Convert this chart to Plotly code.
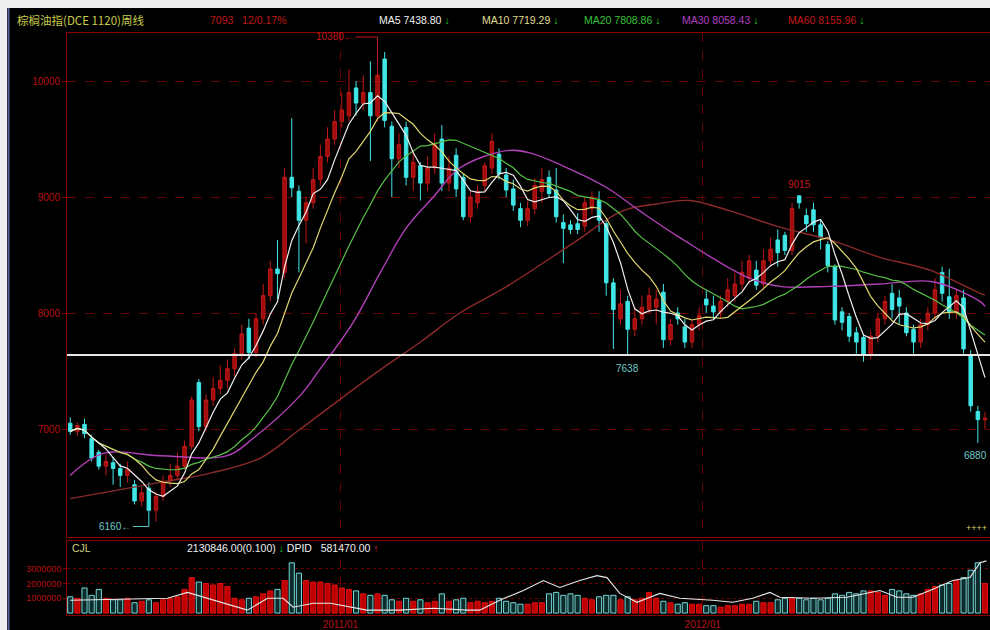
import plotly.graph_objects as go
import pandas as pd

# ---------------- data (weekly) ----------------
opens = [7050, 6980, 7040, 6920, 6800, 6680, 6710, 6660, 6600, 6520,
         6380, 6490, 6300, 6420, 6550, 6600, 6680, 6850, 7400, 7020,
         7250, 7350, 7420, 7520, 7650, 7870, 7660, 7950, 8150, 8380,
         8350, 9170, 9050, 8800, 8950, 9150, 9350, 9500, 9650, 9700,
         9940, 9810, 9900, 9700, 10190, 9610, 9330, 9600, 9170, 9270,
         9120, 9250, 9500, 9120, 9360, 9170, 8830, 8950, 9100, 9250,
         9370, 9190, 9070, 8900, 8800, 8900, 9050, 9170, 9060, 8780,
         8760, 8770, 8750, 8900, 8970, 8770, 8260, 7950, 8100, 7860,
         7950, 8030, 8050, 8180, 7770, 8000, 7880, 7750, 7900, 8120,
         8060, 8010, 8100, 8150, 8250, 8300, 8370, 8250, 8450, 8630,
         8670, 8540, 9010, 8840, 8890, 8760, 8590, 8400, 8010, 7970,
         7830, 7790, 7640, 7800, 7950, 8170, 8130, 8000, 7860, 7750,
         7900, 8000, 8350, 8140, 8010, 8130, 7630, 7150, 7081]
highs = [7100, 7060, 7090, 6950, 6820, 6780, 6760, 6700, 6720, 6560,
         6500, 6540, 6460, 6600, 6700, 6800, 6900, 7280, 7430, 7300,
         7450, 7550, 7600, 7700, 7900, 7950, 8000, 8250, 8450, 8630,
         9250, 9680, 9100, 9000, 9250, 9450, 9600, 9750, 9900, 10100,
         10000, 10050, 10170, 10380, 10250, 9650, 9550, 9650, 9400, 9300,
         9350, 9550, 9620, 9350, 9420, 9200, 9050, 9100, 9300, 9550,
         9420, 9250, 9150, 8950, 8970, 9160, 9250, 9230, 9250, 8850,
         8800, 8860, 9000, 9050, 9050, 8800, 8300, 8200, 8150, 8050,
         8150, 8220, 8200, 8250, 7950, 8050, 7950, 7950, 8050, 8200,
         8150, 8150, 8300, 8350, 8450, 8500, 8450, 8550, 8650, 8720,
         8700, 8950, 9015, 8900, 8950, 8800, 8620, 8420, 8050, 8000,
         7880, 7820, 7850, 8000, 8150, 8250, 8200, 8050, 7900, 7950,
         8050, 8300, 8400, 8380, 8200, 8200, 7680, 7200, 7150]
lows = [6950, 6940, 6920, 6720, 6650, 6600, 6520, 6500, 6540, 6350,
        6330, 6160, 6200, 6380, 6500, 6560, 6650, 6820, 6980, 6980,
        7200, 7300, 7350, 7450, 7600, 7600, 7620, 7900, 8100, 8120,
        8300, 9000, 8350, 8600, 8900, 9100, 9300, 9450, 9600, 9650,
        9700, 9750, 9310, 9650, 9600, 9000, 9250, 9100, 9050, 8970,
        9050, 9200, 9050, 9050, 9000, 8800, 8780, 8900, 9050, 9200,
        9150, 9000, 8880, 8740, 8750, 8850, 8950, 8990, 8780, 8430,
        8680, 8680, 8700, 8850, 8700, 8150, 7690, 7900, 7638, 7800,
        7900, 8000, 7900, 7700, 7720, 7900, 7700, 7700, 7850, 8000,
        7950, 7950, 8050, 8100, 8200, 8250, 8200, 8200, 8400, 8400,
        8500, 8500, 8900, 8700, 8700, 8550, 8350, 7900, 7850, 7750,
        7650, 7580, 7600, 7750, 7900, 7950, 7900, 7800, 7650, 7700,
        7850, 7950, 8100, 7950, 7950, 7650, 7150, 6880, 7000]
closes = [6980, 7030, 6960, 6750, 6680, 6720, 6660, 6600, 6650, 6380,
          6450, 6300, 6420, 6550, 6600, 6680, 6850, 7250, 7020, 7250,
          7350, 7420, 7520, 7650, 7820, 7660, 7950, 8150, 8380, 8340,
          9170, 9080, 8800, 8950, 9150, 9350, 9500, 9650, 9750, 9900,
          9810, 9900, 9700, 10050, 9660, 9330, 9450, 9170, 9300, 9120,
          9250, 9450, 9120, 9250, 9070, 8830, 9000, 9050, 9270, 9480,
          9200, 9060, 8930, 8800, 8900, 9100, 9150, 9030, 8830, 8730,
          8720, 8720, 8950, 9000, 8800, 8260, 8030, 8080, 7860, 7950,
          8050, 8150, 8120, 7770, 7900, 7950, 7750, 7900, 7980, 8070,
          8010, 8100, 8200, 8250, 8350, 8450, 8240, 8450, 8550, 8520,
          8540, 8900, 8950, 8770, 8760, 8650, 8410, 7940, 7920, 7800,
          7750, 7640, 7800, 7950, 8100, 8030, 8060, 7830, 7750, 7900,
          8000, 8200, 8170, 8010, 8150, 7690, 7200, 7081, 7093]
volumes_m = [1.1, 1.0, 1.7, 1.2, 1.6, 1.0, 0.9, 0.9, 1.0, 0.7,
             0.8, 0.9, 0.7, 0.9, 1.0, 1.1, 1.6, 2.4, 2.1, 2.0,
             1.9, 2.0, 1.8, 1.0, 0.9, 1.0, 1.1, 1.3, 1.5, 1.6,
             2.2, 3.4, 2.7, 2.2, 2.1, 2.1, 2.0, 1.9, 1.7, 1.6,
             1.5, 1.3, 1.2, 1.3, 1.2, 0.9, 0.8, 1.0, 0.8, 0.9,
             0.7, 0.8, 1.3, 0.8, 0.9, 1.0, 0.7, 0.8, 0.7, 0.8,
             1.0, 0.8, 0.7, 0.6, 0.6, 0.7, 0.7, 1.3, 1.4, 1.2,
             1.3, 1.2, 1.0, 0.9, 1.1, 1.2, 1.2, 0.9, 1.1, 0.9,
             1.0, 1.4, 1.0, 0.8, 0.7, 0.6, 0.7, 0.6, 0.6, 0.5,
             0.5, 0.4, 0.5, 0.5, 0.6, 0.6, 0.8, 0.7, 0.7, 0.9,
             1.0, 1.0, 1.0, 0.9, 1.0, 0.9, 1.0, 1.3, 1.2, 1.4,
             1.3, 1.5, 1.5, 1.4, 1.2, 1.6, 1.5, 1.3, 1.2, 1.3,
             1.6, 1.8, 1.9, 2.0, 2.2, 2.4, 2.9, 3.4, 2.0]

# long moving averages (week index, value)
ma30_idx = [0, 4.6, 12.6, 22, 25.6, 32.2, 35, 39.6, 43.4, 47.1, 50.8, 54.5,
            61.1, 64.3, 70.3, 75.1, 79.7, 85.3, 94.7, 99.3, 106.3, 113.3,
            120.7, 127.3, 128]
ma30_val = [6600, 6790, 6770, 6770, 6920, 7290, 7520, 7920, 8350, 8740, 9000, 9250,
            9400, 9380, 9230, 9080, 8880, 8650, 8310, 8230, 8230, 8250,
            8270, 8100, 8058]
ma60_idx = [0, 12.6, 19.6, 26.6, 32.2, 42, 49, 54.5, 61.1, 70.3, 77.3, 82,
            86.7, 92.3, 99.3, 106.3, 113.3, 120.3, 127.3, 128]
ma60_val = [6400, 6540, 6620, 6750, 7000, 7450, 7750, 8000, 8230, 8600, 8880, 8940,
            8970, 8880, 8740, 8630, 8480, 8370, 8170, 8156]

# white line in the volume pane (week index, value in millions)
vline_idx = [0, 13.6, 16.4, 19.2, 22.8, 24.8, 27.6, 29.8, 31.2, 34, 36.4, 41.5,
             46.2, 50.8, 55.5, 57.3, 60.1, 63.4, 66.2, 68.5, 71.3, 73.7, 75.1,
             76.9, 79.3, 82.5, 85.3, 89.9, 92.7, 95.5, 97.9, 99.3, 103.9, 108.7,
             113.3, 115.7, 117.9, 120.3, 123.5, 125.9, 127.3, 128.2]
vline_val = [0.87, 1.0, 1.4, 1.0, 0.53, 0.2, 1.0, 1.0, 0.4, 0.67, 0.67, 0.2,
             0.2, 0.33, 0.2, 0.2, 0.87, 1.53, 2.2, 1.73, 2.2, 2.53, 2.4,
             1.33, 0.73, 1.33, 1.0, 0.87, 0.73, 1.0, 1.4, 1.07, 1.0, 1.07,
             1.53, 1.07, 1.07, 1.53, 2.2, 2.4, 3.4, 3.53]

tick_pos = [37.8, 88.5]
tick_labels = ["2011/01", "2012/01"]
price_ticks = [7000, 8000, 9000, 10000]
price_tick_labels = ["7000", "8000", "9000", "10000"]
vol_ticks = [1000000, 2000000, 3000000]
vol_tick_labels = ["1000000", "2000000", "3000000"]
support_level = 7638

# ---------------- derived ----------------
idx = list(range(len(closes)))
cs = pd.Series(closes, dtype=float)
ma5 = cs.rolling(5, min_periods=1).mean()
ma10 = cs.rolling(10, min_periods=1).mean()
ma20 = cs.rolling(20, min_periods=1).mean()
volumes = [v * 1e6 for v in volumes_m]
vline = [v * 1e6 for v in vline_val]
up = [c >= o for o, c in zip(opens, closes)]

RED = "#c81010"
CYAN = "#40e6e6"
GRID = "#6a0000"
AX = "#8a0000"
FONT = "Liberation Sans"

fig = go.Figure()
fig.add_trace(go.Candlestick(
    x=idx, open=opens, high=highs, low=lows, close=closes,
    increasing=dict(line=dict(color="#c01818", width=1), fillcolor="#a00c0c"),
    decreasing=dict(line=dict(color=CYAN, width=1), fillcolor=CYAN),
    whiskerwidth=0, xaxis="x", yaxis="y", showlegend=False, hoverinfo="skip"))

fig.add_trace(go.Scatter(x=ma60_idx, y=ma60_val, mode="lines", line=dict(color="#8c2a2a", width=1.4, shape="spline"),
                         xaxis="x", yaxis="y", showlegend=False))
fig.add_trace(go.Scatter(x=ma30_idx, y=ma30_val, mode="lines", line=dict(color="#b040b8", width=1.4, shape="spline"),
                         xaxis="x", yaxis="y", showlegend=False))
fig.add_trace(go.Scatter(x=idx, y=ma20, mode="lines", line=dict(color="#58c048", width=1.2),
                         xaxis="x", yaxis="y", showlegend=False))
fig.add_trace(go.Scatter(x=idx, y=ma10, mode="lines", line=dict(color="#e0d870", width=1.2),
                         xaxis="x", yaxis="y", showlegend=False))
fig.add_trace(go.Scatter(x=idx, y=ma5, mode="lines", line=dict(color="#f0f0f0", width=1.2),
                         xaxis="x", yaxis="y", showlegend=False))

fig.add_trace(go.Bar(
    x=idx, y=volumes, width=0.72,
    marker=dict(color=["#c00000" if u else "#0c2c2c" for u in up],
                line=dict(color=["#e01010" if u else "#78d8d8" for u in up], width=1)),
    xaxis="x2", yaxis="y2", showlegend=False))
fig.add_trace(go.Scatter(x=vline_idx, y=vline, mode="lines", line=dict(color="#e8e8e8", width=1.1),
                         xaxis="x2", yaxis="y2", showlegend=False))

xr = [-0.45, 128.7]
fig.update_layout(
    width=990, height=630,
    margin=dict(l=67, r=0, t=33, b=15),
    paper_bgcolor="#000000", plot_bgcolor="#000000",
    font=dict(family=FONT, color=RED, size=10),
    bargap=0.25,
    xaxis=dict(domain=[0, 1], range=xr, anchor="y", tickvals=tick_pos, showticklabels=False,
               showgrid=True, gridcolor=GRID, griddash="dash", gridwidth=1,
               showline=True, linecolor=AX, mirror=True, zeroline=False,
               rangeslider=dict(visible=False), ticks=""),
    yaxis=dict(domain=[0.134, 1], range=[6069, 10414], tickvals=price_ticks, ticktext=price_tick_labels,
               tickfont=dict(color="#b81010", size=10, family=FONT),
               ticks="outside", ticklen=4, tickcolor=AX,
               showgrid=True, gridcolor=GRID, griddash="dash",
               showline=True, linecolor=AX, zeroline=False),
    xaxis2=dict(domain=[0, 1], range=xr, anchor="y2", matches="x", tickvals=tick_pos, ticktext=tick_labels,
                tickfont=dict(color="#b81010", size=10, family=FONT),
                showgrid=True, gridcolor=GRID, griddash="dash",
                showline=True, linecolor=AX, mirror=True, zeroline=False, ticks=""),
    yaxis2=dict(domain=[0, 0.127], range=[-130000, 4870000], tickvals=vol_ticks, ticktext=vol_tick_labels,
                tickfont=dict(color="#b81010", size=9, family=FONT),
                ticks="outside", ticklen=3, tickcolor=AX,
                showgrid=True, gridcolor=GRID, griddash="dot",
                showline=True, linecolor=AX, zeroline=False),
)

# frame pieces of the window
fig.add_shape(type="rect", xref="paper", yref="paper", x0=-0.08, x1=(7 - 67) / 923, y0=-0.05, y1=1.1,
              fillcolor="#efefef", line=dict(width=0), layer="above")
fig.add_shape(type="rect", xref="paper", yref="paper", x0=-0.08, x1=1.01, y0=(615 - 8) / 582, y1=1.1,
              fillcolor="#efefef", line=dict(width=0), layer="above")
fig.add_shape(type="line", xref="paper", yref="paper", x0=(8.5 - 67) / 923, x1=(8.5 - 67) / 923,
              y0=-0.05, y1=(615 - 8) / 582, line=dict(color="#5a6a9a", width=2), layer="above")

# support line
fig.add_shape(type="line", xref="paper", yref="y", x0=0, x1=1, y0=support_level, y1=support_level,
              line=dict(color="#e6e6e6", width=2))


def px_x(p):
    return (p - 67) / 923


def px_y(p):
    return (615 - p) / 582


def head(text, xpx, ypx, color, size=10.5, family=FONT):
    fig.add_annotation(text=text, xref="paper", yref="paper", x=px_x(xpx), y=px_y(ypx),
                       xanchor="left", yanchor="middle", showarrow=False,
                       font=dict(color=color, size=size, family=family))


DOWN = "<span style='color:#20c020'>↓</span>"
UP = "<span style='color:#e02020'>↑</span>"
head("棕榈油指(DCE 1120)周线", 15, 20, "#c8cc48", size=11.5, family="Noto Sans CJK SC")
head("7093   12/0.17%", 208, 20, "#c01818")
head("MA5 7438.80 " + DOWN, 377, 20, "#f0f0f0")
head("MA10 7719.29 " + DOWN, 480, 20, "#e0dc90")
head("MA20 7808.86 " + DOWN, 582, 20, "#38c038")
head("MA30 8058.43 " + DOWN, 680, 20, "#b040c0")
head("MA60 8155.96 " + DOWN, 786, 20, "#c01818")
head("CJL", 70, 548, "#d0d080")
head("2130846.00(0.100) " + DOWN + " DPID   581470.00 " + UP, 185, 548, "#f0f0f0")

# extreme value labels
fig.add_annotation(x=43, y=10380, xref="x", yref="y", text="10380←", showarrow=True, arrowhead=0,
                   arrowcolor="#c01818", arrowwidth=1, ax=-22, ay=0, xanchor="right",
                   font=dict(color="#c01818", size=10, family=FONT))
fig.add_annotation(x=11, y=6160, xref="x", yref="y", text="6160←", showarrow=True, arrowhead=0,
                   arrowcolor="#60c8c8", arrowwidth=1, ax=-16, ay=0, xanchor="right",
                   font=dict(color="#70c8c8", size=10, family=FONT))
fig.add_annotation(x=78, y=7638, xref="x", yref="y", text="7638", showarrow=False, yshift=-13,
                   font=dict(color="#70c8c8", size=10, family=FONT))
fig.add_annotation(x=102, y=9015, xref="x", yref="y", text="9015", showarrow=False, yshift=11,
                   font=dict(color="#c01818", size=10, family=FONT))
fig.add_annotation(x=128.6, y=6880, xref="x", yref="y", text="6880", showarrow=False, yshift=-13,
                   xanchor="right", font=dict(color="#70c8c8", size=10, family=FONT))
fig.add_annotation(x=128.6, y=6150, xref="x", yref="y", text="++++", showarrow=False, xanchor="right",
                   font=dict(color="#d8d070", size=9, family=FONT))

fig.write_html("out.html", config={"displayModeBar": False},
               post_script="document.body.style.margin='0px';document.body.style.overflow='hidden';")
